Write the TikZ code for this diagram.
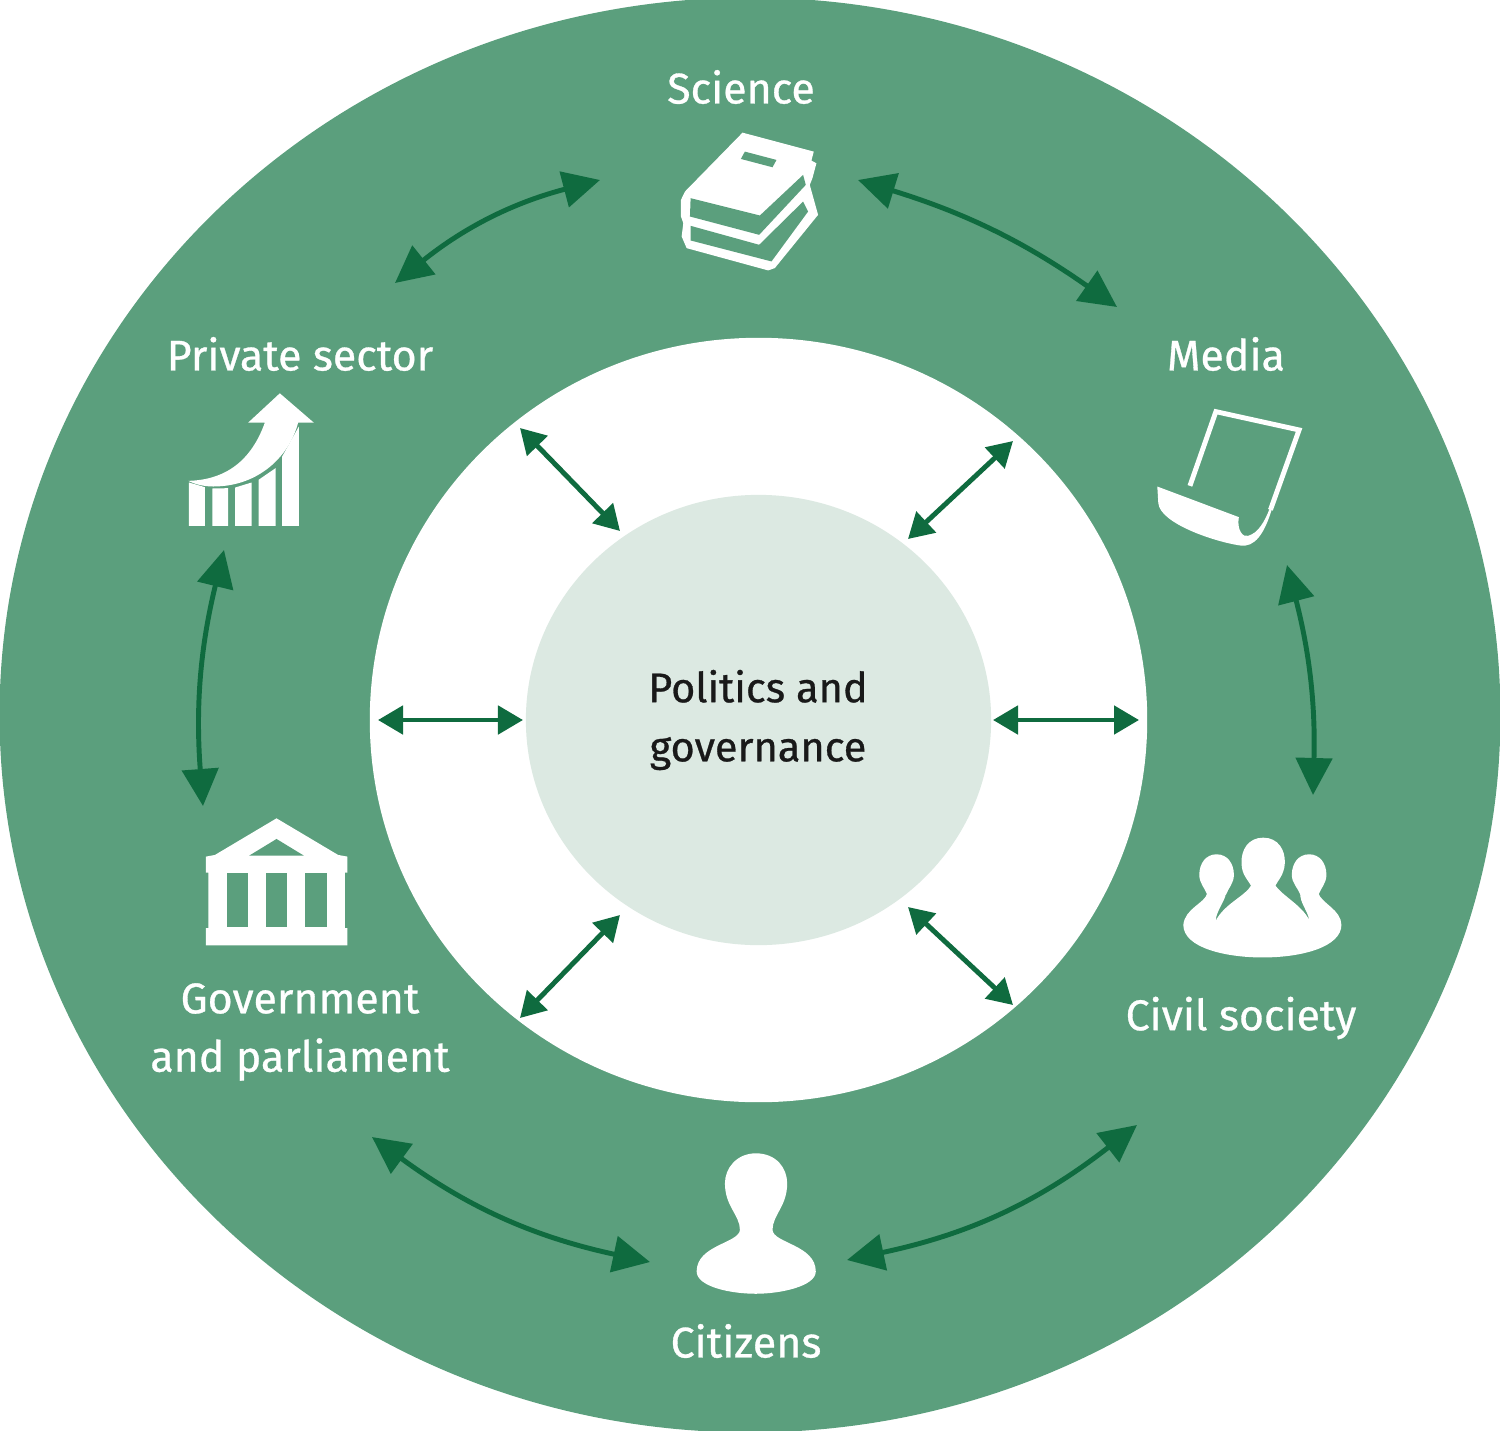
\documentclass[tikz,border=0pt]{standalone}
\usepackage{fontspec}
\setmainfont[RawFeature={embolden=0.7}]{Fira Sans}
\usetikzlibrary{arrows.meta}
\definecolor{ringgreen}{HTML}{5B9F7D}
\definecolor{coregreen}{HTML}{DCE9E2}
\definecolor{arrowgreen}{HTML}{0F6B3F}
\tikzset{
    ringarrow/.style={<->, >={Triangle[length=0.37cm,width=0.36cm]}, arrowgreen, line width=1.4pt},
    spokearrow/.style={<->, >={Triangle[length=0.25cm,width=0.28cm]}, arrowgreen, line width=1.4pt},
    ringlabel/.style={text=white, font=\fontsize{12.2}{16.6}\selectfont, align=center, inner sep=0pt},
    icon/.style={shift={#1}, x=0.00333cm, y=-0.00333cm}
}
\begin{document}
\begin{tikzpicture}[x=0.01cm, y=-0.01cm]
    \useasboundingbox (0,0) rectangle (1500,1430);
    \begin{scope}
    \clip (0,0) rectangle (1500,1430);
    \fill[ringgreen] (750,715) ellipse [x radius=7.5cm, y radius=7.17cm];
    \end{scope}
    \fill[white] (758.5,720) ellipse [x radius=3.885cm, y radius=3.82cm];
    \fill[coregreen] (758.5,720) ellipse [x radius=2.325cm, y radius=2.25cm];

    % labels
    \node[ringlabel] (science) at (741,87) {Science};
    \node[ringlabel] (media) at (1226,354) {Media};
    \node[ringlabel] (private) at (300,354) {Private sector};
    \node[ringlabel] (civil) at (1241,1018) {Civil society};
    \node[ringlabel] (citizens) at (746,1341) {Citizens};
    \node[ringlabel] (government) at (300,1032) {Government\\and parliament};
    \node[ringlabel, text=black!90, font=\fontsize{11.8}{16.8}\selectfont] (politics) at (758,720) {Politics and\\governance};

    % ends of the outer arrows
    \coordinate (sciW) at (600,180);
    \coordinate (priN) at (395,283);
    \coordinate (sciE) at (858,180);
    \coordinate (medN) at (1117,307);
    \coordinate (medS) at (1287,565);
    \coordinate (civN) at (1313,795);
    \coordinate (civS) at (1137,1125);
    \coordinate (citE) at (847,1260);
    \coordinate (citW) at (650,1262);
    \coordinate (govS) at (372,1137);
    \coordinate (govN) at (203,806);
    \coordinate (priS) at (224,550);
    \draw[ringarrow] (priN) to[bend left=12] (sciW);
    \draw[ringarrow] (sciE) to[bend left=9] (medN);
    \draw[ringarrow] (medS) to[bend left=8] (civN);
    \draw[ringarrow] (civS) to[bend left=13] (citE);
    \draw[ringarrow] (citW) to[bend left=12] (govS);
    \draw[ringarrow] (govN) to[bend left=9] (priS);

    % ends of the spokes
    \coordinate (nwOut) at (520,428);
    \coordinate (nwIn) at (620,531);
    \coordinate (neOut) at (1013,441);
    \coordinate (neIn) at (908,539);
    \coordinate (wOut) at (378,720);
    \coordinate (wIn) at (523,720);
    \coordinate (eOut) at (1139,720);
    \coordinate (eIn) at (993,720);
    \coordinate (swOut) at (520,1018);
    \coordinate (swIn) at (620,915);
    \coordinate (seOut) at (1013,1005);
    \coordinate (seIn) at (908,907);
    \draw[spokearrow] (nwOut) -- (nwIn);
    \draw[spokearrow] (neOut) -- (neIn);
    \draw[spokearrow] (wOut) -- (wIn);
    \draw[spokearrow] (eOut) -- (eIn);
    \draw[spokearrow] (swOut) -- (swIn);
    \draw[spokearrow] (seOut) -- (seIn);

    % books
    \begin{scope}[icon={(660,120)}]
    \fill[white] (248,38) -- (462,95) -- (455,122) -- (470,130) -- (458,175) -- (450,195) -- (475,285) -- (345,445) -- (325,452) -- (80,385) -- (65,350) -- (70,310) -- (63,290) -- (63,240) -- (75,215) -- cycle;
    \fill[ringgreen] (255,95) -- (350,120) -- (338,142) -- (243,117) -- cycle;
    \fill[ringgreen] (92,235) -- (300,287) -- (430,165) -- (438,195) -- (298,345) -- (90,290) -- cycle;
    \fill[ringgreen] (92,318) -- (298,375) -- (430,245) -- (445,275) -- (335,425) -- (92,362) -- cycle;
    \end{scope}

    % paper
    \begin{scope}[icon={(1140,400)}]
    \draw[white, line width=1.4pt] (150,258) -- (228,35) -- (478,90) -- (392,330);
    \fill[white] (52,260) -- (297,352) .. controls (290,390) and (310,415) .. (325,408) .. controls (355,400) and (375,365) .. (390,325) -- (397,325) .. controls (375,400) and (345,445) .. (300,437) .. controls (220,425) and (60,370) .. (55,310) -- cycle;
    \end{scope}

    % chart
    \begin{scope}[icon={(170,385)}]
    \fill[white] (330,25) -- (432,113) -- (385,113) .. controls (360,210) and (270,305) .. (130,305) .. controls (100,305) and (75,298) .. (55,288) .. controls (170,285) and (245,225) .. (285,113) -- (235,113) -- cycle;
    \fill[white] (57,293) -- (105,307) -- (105,423) -- (57,423) -- cycle;
    \fill[white] (127,311) -- (175,310) -- (175,423) -- (127,423) -- cycle;
    \fill[white] (196,308) -- (245,293) -- (245,423) -- (196,423) -- cycle;
    \fill[white] (266,285) -- (317,250) -- (317,423) -- (266,423) -- cycle;
    \fill[white] (337,215) -- (387,125) -- (387,423) -- (337,423) -- cycle;
    \end{scope}

    % temple
    \begin{scope}[icon={(190,810)}]
    \fill[white] (260,25) -- (445,135) -- (473,140) -- (473,188) -- (465,188) -- (465,355) -- (473,355) -- (473,407) -- (48,407) -- (48,355) -- (55,355) -- (55,188) -- (48,188) -- (48,140) -- (75,135) -- cycle;
    \fill[ringgreen] (260,87) -- (342,137) -- (178,137) -- cycle;
    \fill[ringgreen] (110,190) rectangle (173,353);
    \fill[ringgreen] (228,190) rectangle (291,353);
    \fill[ringgreen] (346,190) rectangle (412,353);
    \end{scope}

    % group of people
    \begin{scope}[icon={(1170,825)}]
    \fill[white] (112,205) .. controls (105,235) and (45,250) .. (40,300) .. controls (40,370) and (170,398) .. (278,398) .. controls (400,398) and (515,365) .. (515,300) .. controls (515,255) and (455,235) .. (446,205) -- (392,205) .. controls (388,230) and (415,260) .. (418,285) .. controls (395,240) and (340,215) .. (315,180) -- (245,180) .. controls (225,215) and (165,235) .. (137,288) .. controls (140,255) and (165,230) .. (168,205) -- cycle;
    \fill[white] (140,88) .. controls (172,88) and (192,115) .. (192,150) .. controls (192,175) and (175,190) .. (168,210) -- (112,210) .. controls (105,190) and (88,175) .. (88,150) .. controls (88,115) and (108,88) .. (140,88) -- cycle;
    \fill[white] (418,88) .. controls (450,88) and (470,115) .. (470,150) .. controls (470,175) and (453,190) .. (446,210) -- (392,210) .. controls (385,190) and (366,175) .. (366,150) .. controls (366,115) and (386,88) .. (418,88) -- cycle;
    \fill[white] (280,38) .. controls (325,38) and (347,75) .. (345,115) .. controls (343,150) and (325,165) .. (315,185) -- (245,185) .. controls (235,165) and (215,150) .. (215,115) .. controls (213,75) and (235,38) .. (280,38) -- cycle;
    \end{scope}

    % citizen
    \begin{scope}[icon={(680,1140)}]
    \fill[white] (228,40) .. controls (290,40) and (322,85) .. (322,130) .. controls (322,200) and (278,225) .. (278,270) .. controls (280,310) and (408,315) .. (408,395) .. controls (408,440) and (300,462) .. (228,462) .. controls (150,462) and (50,440) .. (50,395) .. controls (50,315) and (178,310) .. (180,270) .. controls (180,225) and (135,200) .. (135,130) .. controls (135,85) and (170,40) .. (228,40) -- cycle;
    \end{scope}
\end{tikzpicture}
\end{document}
